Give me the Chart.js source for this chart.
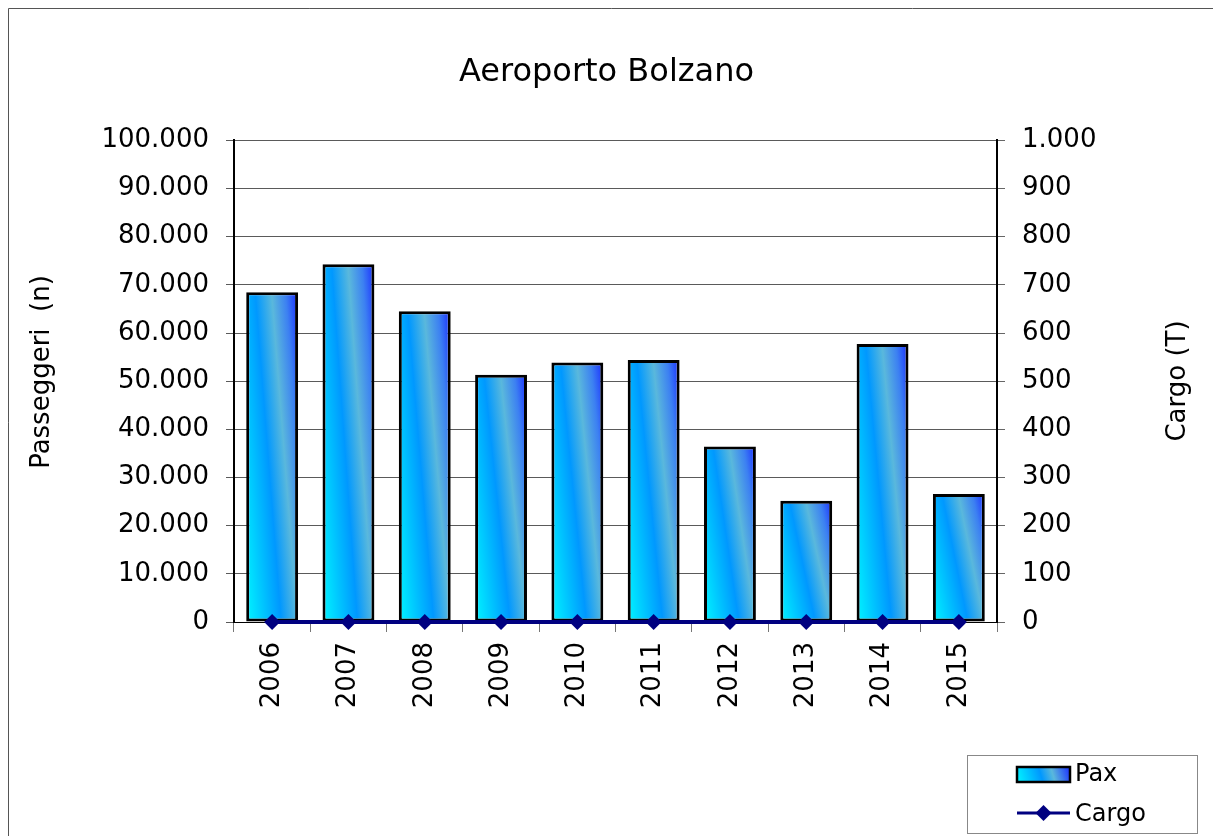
<!DOCTYPE html>
<html>
<head>
<meta charset="utf-8">
<script src="https://cdn.jsdelivr.net/npm/chart.js@4.4.1/dist/chart.umd.min.js"></script>
<style>
  html, body { margin: 0; padding: 0; background: #fff; overflow: hidden; }
  #wrap { position: relative; width: 1213px; height: 836px; }
</style>
</head>
<body>
<div id="wrap"><canvas id="canvas1" width="1213" height="836"></canvas></div>
<script>
var anni = ["2006", "2007", "2008", "2009", "2010", "2011", "2012", "2013", "2014", "2015"];
var passeggeri = [68450, 74300, 64500, 51350, 53900, 54400, 36450, 25200, 57700, 26600];
var cargo = [0, 0, 0, 0, 0, 0, 0, 0, 0, 0];
var titolo = "Aeroporto Bolzano";
var titoloY = "Passeggeri  (n)";
var titoloY1 = "Cargo (T)";

var FONT = "'DejaVu Sans', Verdana, sans-serif";
var BAR_PCT = 0.68;

// formato italiano: 100.000
function formatta(v) {
  return String(Math.round(v)).replace(/\B(?=(\d{3})+(?!\d))/g, ".");
}

// gradiente diagonale di ogni barra (ciano in basso a sinistra, blu in alto a destra)
function riempimento(c) {
  var chart = c.chart;
  if (!chart.chartArea || c.type !== 'data') return '#0096ff';
  var xs = chart.scales.x, ys = chart.scales.y;
  var cx = xs.getPixelForValue(c.dataIndex);
  var w = xs.width / anni.length * BAR_PCT;
  var top = ys.getPixelForValue(c.raw);
  var base = ys.getPixelForValue(0);
  var H = Math.max(base - top, 1), W = w;
  var gx = H, gy = -0.5 * W;
  var n = Math.sqrt(gx * gx + gy * gy);
  var d = 1.5 * W * H / n;
  var x0 = cx - w / 2, y0 = base;
  var g = chart.ctx.createLinearGradient(x0, y0, x0 + gx / n * d, y0 + gy / n * d);
  g.addColorStop(0, '#00f6ff');
  g.addColorStop(0.45, '#0098ff');
  g.addColorStop(0.66, '#5ab8dc');
  g.addColorStop(0.84, '#3c80f2');
  g.addColorStop(1, '#1a2cff');
  return g;
}

var cornice = {
  id: 'cornice',
  beforeDraw: function (chart) {
    var ctx = chart.ctx;
    ctx.save();
    ctx.strokeStyle = '#555';
    ctx.lineWidth = 1;
    ctx.beginPath();
    ctx.moveTo(8.5, 840);
    ctx.lineTo(8.5, 8.5);
    ctx.lineTo(1220, 8.5);
    ctx.stroke();
    ctx.restore();
  },
  afterDraw: function (chart) {
    var ctx = chart.ctx;
    ctx.save();
    ctx.fillStyle = '#000';
    ctx.font = '26px ' + FONT;
    ctx.textAlign = 'center';
    ctx.textBaseline = 'middle';
    ctx.translate(42, 372);
    ctx.rotate(-Math.PI / 2);
    ctx.fillText(titoloY, 0, 0);
    ctx.restore();
    ctx.save();
    ctx.fillStyle = '#000';
    ctx.font = '26px ' + FONT;
    ctx.textAlign = 'center';
    ctx.textBaseline = 'middle';
    ctx.translate(1178, 381);
    ctx.rotate(-Math.PI / 2);
    ctx.fillText(titoloY1, 0, 0);
    ctx.restore();

    // legenda
    var ds = chart.data.datasets;
    var pax = ds.filter(function (d) { return d.type !== 'line'; })[0];
    var crg = ds.filter(function (d) { return d.type === 'line'; })[0];
    ctx.save();
    ctx.strokeStyle = '#888';
    ctx.lineWidth = 1;
    ctx.strokeRect(967.5, 755.5, 230, 78);
    var gr = ctx.createLinearGradient(1017, 782, 1070, 766);
    gr.addColorStop(0, '#00f6ff');
    gr.addColorStop(0.45, '#0098ff');
    gr.addColorStop(0.66, '#5ab8dc');
    gr.addColorStop(1, '#1a2cff');
    ctx.fillStyle = gr;
    ctx.fillRect(1017, 767, 53, 15);
    ctx.strokeStyle = '#000';
    ctx.lineWidth = 2.5;
    ctx.strokeRect(1017, 767, 53, 15);
    ctx.strokeStyle = '#000080';
    ctx.lineWidth = 3;
    ctx.beginPath();
    ctx.moveTo(1017, 813);
    ctx.lineTo(1070, 813);
    ctx.stroke();
    ctx.fillStyle = '#000080';
    ctx.beginPath();
    ctx.moveTo(1043.5, 805);
    ctx.lineTo(1051.5, 813);
    ctx.lineTo(1043.5, 821);
    ctx.lineTo(1035.5, 813);
    ctx.closePath();
    ctx.fill();
    ctx.fillStyle = '#000';
    ctx.font = '24px ' + FONT;
    ctx.textAlign = 'left';
    ctx.textBaseline = 'middle';
    ctx.fillText(pax.label, 1075, 775);
    ctx.fillText(crg.label, 1075, 815);
    ctx.restore();
  }
};

var ctx = document.getElementById('canvas1').getContext('2d');
var grafico = new Chart(ctx, {
  type: 'bar',
  data: {
    labels: anni,
    datasets: [
      {
        label: 'Pax',
        data: passeggeri,
        yAxisID: 'y',
        backgroundColor: riempimento,
        borderColor: '#000',
        borderWidth: 3,
        borderSkipped: false,
        barPercentage: BAR_PCT,
        categoryPercentage: 1,
        order: 1
      },
      {
        type: 'line',
        label: 'Cargo',
        data: cargo,
        yAxisID: 'y1',
        borderColor: '#000080',
        backgroundColor: '#000080',
        borderWidth: 4,
        pointStyle: 'rectRot',
        pointRadius: 8,
        pointBorderWidth: 0,
        tension: 0,
        clip: false,
        order: 0
      }
    ]
  },
  options: {
    responsive: false,
    animation: false,
    events: [],
    layout: { padding: { left: 0, right: 0, top: 0, bottom: 114 } },
    plugins: {
      legend: { display: false },
      tooltip: { enabled: false },
      title: {
        display: true,
        text: titolo,
        color: '#000',
        font: { family: FONT, size: 32, weight: 'normal', lineHeight: 1.2 },
        padding: { top: 53, bottom: 49 }
      }
    },
    scales: {
      x: {
        offset: true,
        grid: { display: true, offset: true, drawOnChartArea: false, drawTicks: true, tickLength: 10, color: '#777' },
        border: { display: true, color: '#000', width: 1 },
        ticks: {
          color: '#000',
          font: { family: FONT, size: 26 },
          minRotation: 90,
          maxRotation: 90,
          padding: 10,
          autoSkip: false
        },
        afterFit: function (s) { s.height = 100; }
      },
      y: {
        position: 'left',
        min: 0,
        max: 100000,
        grid: { color: '#5a5a5a', lineWidth: 1, tickLength: 8 },
        border: { display: true, color: '#000', width: 2 },
        ticks: {
          stepSize: 10000,
          color: '#000',
          padding: 17,
          font: { family: FONT, size: 26 },
          callback: function (v) { return formatta(v); }
        },
        afterFit: function (s) { s.width = 234; }
      },
      y1: {
        position: 'right',
        min: 0,
        max: 1000,
        grid: { drawOnChartArea: false, color: '#666', tickLength: 8 },
        border: { display: true, color: '#000', width: 2 },
        ticks: {
          stepSize: 100,
          color: '#000',
          padding: 17,
          font: { family: FONT, size: 26 },
          callback: function (v) { return formatta(v); }
        },
        afterFit: function (s) { s.width = 216; }
      }
    }
  },
  plugins: [cornice]
});
</script>
</body>
</html>
